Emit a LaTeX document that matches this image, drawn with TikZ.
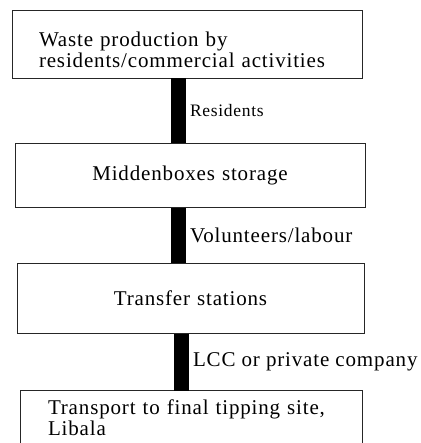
\documentclass[tikz,border=0pt]{standalone}
\usepackage{fontspec}
\setmainfont{Liberation Serif}[LetterSpace=4]
\usetikzlibrary{positioning}

\begin{document}
\begin{tikzpicture}[x=1pt,y=1pt]

  \tikzset{
    box/.style={draw=black!85,line width=0.7pt,inner xsep=27pt,font=\fontsize{21}{21}\selectfont},
    bar/.style={line width=15pt},
    lab/.style={anchor=west,inner sep=1pt,xshift=3pt,font=\fontsize{21}{22}\selectfont},
  }

  \fill[white] (0,0) rectangle (420,-443);
  \useasboundingbox (0,0) rectangle (420,-443);

  \node[box,minimum width=350pt,minimum height=68pt,text width=296pt,text height=26pt,align=left] (prod) at (187,-44)
    {Waste production by\\residents/commercial activities};
  \node[box,minimum width=350pt,minimum height=64pt,text width=296pt,align=center] (store)
    [below=65pt of prod,xshift=3pt] {Middenboxes storage};
  \node[box,minimum width=347pt,minimum height=70pt,text width=293pt,align=center] (transfer)
    [below=55pt of store,xshift=0.5pt] {Transfer stations};
  \node[box,draw=none,minimum width=341pt,minimum height=54pt,text width=287pt,align=left] (tip)
    [below=57pt of transfer,xshift=1pt] {Transport to final tipping site,\\Libala};
  % last box runs off the bottom
  \draw[black!85,line width=0.7pt] (tip.south west) -- (tip.north west) -- (tip.north east) -- (tip.south east);

  \draw[bar] ([xshift=-8.5pt]prod.south) -- ([xshift=-8.5pt]prod.south |- store.north)
    node[lab,midway,font=\fontsize{17.5}{18}\selectfont] {Residents};
  \draw[bar] ([xshift=-11.5pt]store.south) -- ([xshift=-11.5pt]store.south |- transfer.north)
    node[lab,midway] {Volunteers/labour};
  \draw[bar] ([xshift=-9pt]transfer.south) -- ([xshift=-9pt]transfer.south |- tip.north)
    node[lab,midway] {LCC or private company};

\end{tikzpicture}
\end{document}
